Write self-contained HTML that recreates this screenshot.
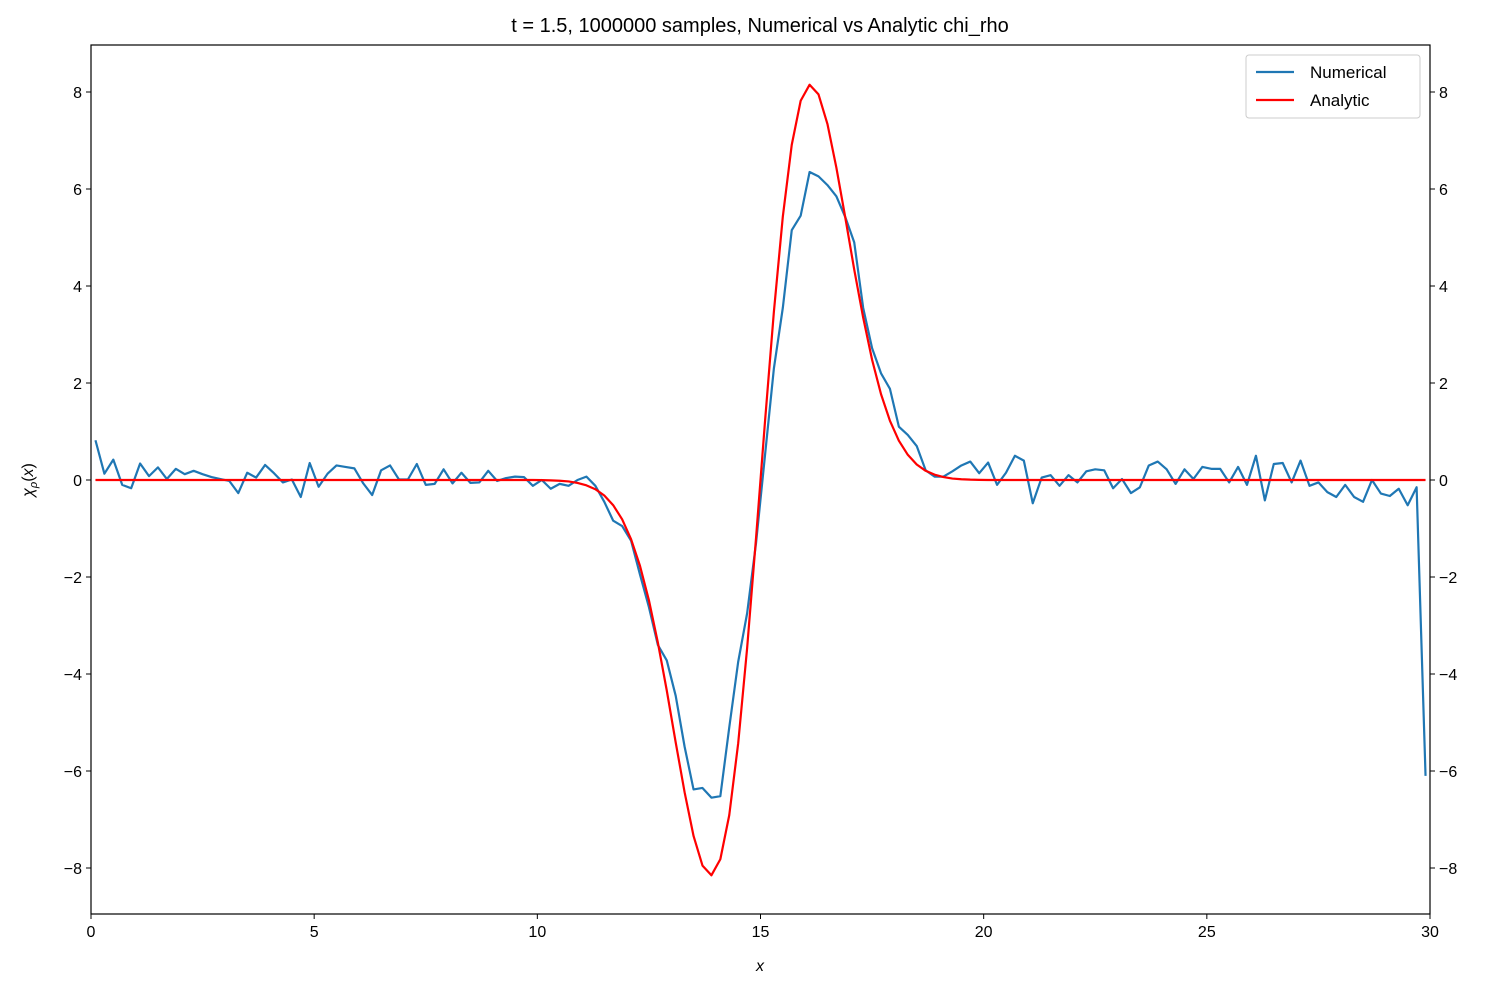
<!DOCTYPE html>
<html><head><meta charset="utf-8"><style>
body{margin:0;background:#fff;}
svg text{font-family:"Liberation Sans","DejaVu Sans",sans-serif;fill:#000;}
</style></head><body>
<svg id="chart" width="1488" height="989" xmlns="http://www.w3.org/2000/svg">
<rect width="1488" height="989" fill="#fff"/>
<text x="760" y="32" font-size="20" text-anchor="middle">t = 1.5, 1000000 samples, Numerical vs Analytic chi_rho</text>
<g id="series"></g>
<rect x="91" y="45" width="1339" height="869" fill="none" stroke="#000" stroke-width="1.2"/>
<g id="axes"></g>
<text x="760" y="971" font-size="16" font-style="italic" text-anchor="middle">x</text>
<text transform="translate(33,480) rotate(-90)" font-size="16" text-anchor="middle"><tspan font-style="italic">χ</tspan><tspan font-size="11" dy="4" font-style="italic">ρ</tspan><tspan dy="-4">(</tspan><tspan font-style="italic">x</tspan>)</text>
<g>
<rect x="1246" y="55" width="174" height="63" rx="3" fill="#fff" stroke="#ccc"/>
<line x1="1256" y1="72" x2="1294" y2="72" stroke="#1f77b4" stroke-width="2.2"/>
<text x="1310" y="78" font-size="17">Numerical</text>
<line x1="1256" y1="100" x2="1294" y2="100" stroke="#ff0000" stroke-width="2.2"/>
<text x="1310" y="106" font-size="17">Analytic</text>
</g>
</svg>
<script>
const numerical = [
0.82,0.13,0.42,-0.1,-0.17,0.34,0.08,0.26,0.02,0.23,
0.12,0.19,0.12,0.06,0.02,-0.02,-0.27,0.15,0.05,0.31,
0.14,-0.05,0.01,-0.35,0.35,-0.14,0.13,0.3,0.27,0.24,
-0.07,-0.31,0.2,0.3,0.01,0.01,0.33,-0.1,-0.08,0.22,
-0.07,0.15,-0.06,-0.05,0.19,-0.02,0.04,0.07,0.06,-0.12,
0.0,-0.18,-0.08,-0.12,0.0,0.07,-0.12,-0.45,-0.84,-0.95,
-1.25,-1.95,-2.62,-3.4,-3.72,-4.45,-5.5,-6.38,-6.35,-6.55,
-6.52,-5.1,-3.75,-2.75,-1.3,0.5,2.3,3.55,5.15,5.45,
6.35,6.26,6.08,5.85,5.42,4.9,3.55,2.72,2.2,1.88,
1.1,0.93,0.7,0.2,0.07,0.07,0.18,0.3,0.38,0.14,
0.36,-0.1,0.15,0.5,0.4,-0.48,0.05,0.1,-0.12,0.1,
-0.05,0.18,0.22,0.2,-0.17,0.02,-0.27,-0.15,0.3,0.38,
0.22,-0.08,0.22,0.02,0.27,0.23,0.23,-0.05,0.27,-0.1,
0.5,-0.42,0.33,0.35,-0.05,0.4,-0.12,-0.05,-0.25,-0.35,
-0.1,-0.35,-0.45,0.0,-0.28,-0.33,-0.18,-0.52,-0.15,-6.1];
const analytic = [
0,0,0,0,0,0,0,0,0,0,
0,0,0,0,0,0,0,0,0,0,
0,0,0,0,0,0,0,0,0,0,
0,0,0,0,0,0,0,0,0,0,
0,0,0,0,0,0,0,0,0,0,
-0.003,-0.007,-0.015,-0.03,-0.06,-0.11,-0.19,-0.32,-0.52,-0.81,
-1.22,-1.77,-2.48,-3.35,-4.34,-5.41,-6.44,-7.34,-7.95,-8.15,
-7.82,-6.91,-5.43,-3.47,-1.195,1.195,3.47,5.43,6.91,7.82,
8.15,7.95,7.34,6.44,5.41,4.34,3.35,2.48,1.77,1.22,
0.81,0.52,0.32,0.19,0.11,0.06,0.03,0.015,0.007,0.003,
0,0,0,0,0,0,0,0,0,0,
0,0,0,0,0,0,0,0,0,0,
0,0,0,0,0,0,0,0,0,0,
0,0,0,0,0,0,0,0,0,0,
0,0,0,0,0,0,0,0,0,0];
const xStart = 0.1, xEnd = 29.9;
const xTicks = [0,5,10,15,20,25,30];
const yTicks = [-8,-6,-4,-2,0,2,4,6,8];
const yTickLabels = ["\u22128","\u22126","\u22124","\u22122","0","2","4","6","8"];

const NS="http://www.w3.org/2000/svg";
const X0=91,X1=1430,Y0=914;
function sx(v){return X0+v/30*(X1-X0);}
function sy(v){return 480 - v*48.5;}
const axes=document.getElementById('axes');
function mk(tag,attrs,parent){const e=document.createElementNS(NS,tag);for(const k in attrs)e.setAttribute(k,attrs[k]);parent.appendChild(e);return e;}
xTicks.forEach(t=>{
  const l=mk('line',{x1:sx(t),x2:sx(t),y1:Y0,y2:Y0+5,stroke:'#000'},axes);
  
  
  const tx=mk('text',{x:sx(t),y:Y0+23,'font-size':16,'text-anchor':'middle'},axes);
  tx.textContent=t;
  
  
});
yTicks.forEach((t,i)=>{
  const l=mk('line',{x1:X0-5,x2:X0,y1:sy(t),y2:sy(t),stroke:'#000'},axes);
  
  
  const r=mk('line',{x1:X1,x2:X1+5,y1:sy(t),y2:sy(t),stroke:'#000'},axes);
  
  
  const a=mk('text',{x:X0-9,y:sy(t)+6,'font-size':16,'text-anchor':'end'},axes);
  a.textContent=yTickLabels[i];
  
  
  const b=mk('text',{x:X1+9,y:sy(t)+6,'font-size':16,'text-anchor':'start'},axes);
  b.textContent=yTickLabels[i];
  
  
});
const series=document.getElementById('series');
function path(arr,color,name){
  const n=arr.length;
  const step=(xEnd-xStart)/(n-1);
  const d=arr.map((v,i)=>(i?'L':'M')+sx(xStart+i*step).toFixed(2)+' '+sy(v).toFixed(2)).join(' ');
  const p=mk('path',{d:d,fill:'none',stroke:color,'stroke-width':2.2,'stroke-linejoin':'round'},series);
  
  
}
path(numerical,'#1f77b4','numerical-line');
path(analytic,'#ff0000','analytic-line');
</script>
</body></html>
